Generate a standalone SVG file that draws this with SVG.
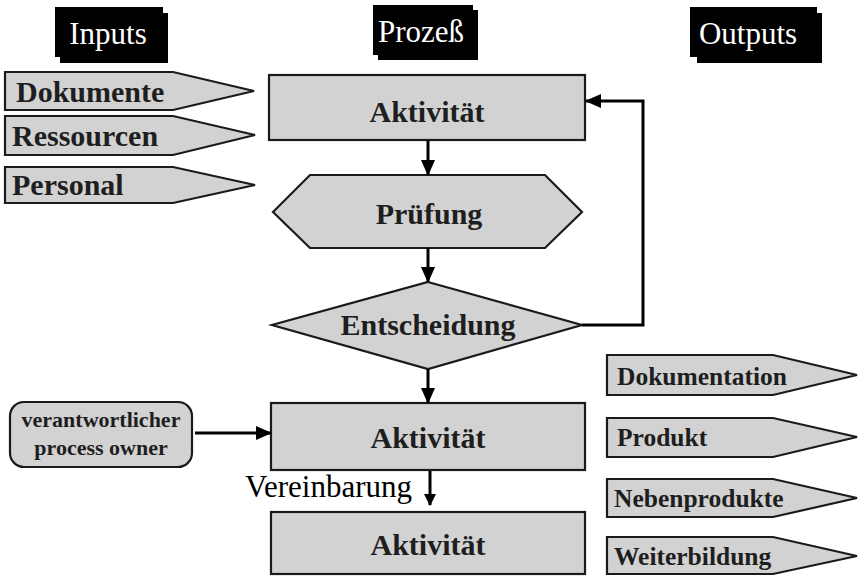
<svg xmlns="http://www.w3.org/2000/svg" width="862" height="576" viewBox="0 0 862 576">
<defs>
<marker id="ah" markerUnits="userSpaceOnUse" markerWidth="16" markerHeight="14" viewBox="0 0 16 14" refX="15" refY="7" orient="auto">
<path d="M0,0 L16,7 L0,14 Z" fill="#000"/>
</marker>
<marker id="ahs" markerUnits="userSpaceOnUse" markerWidth="12" markerHeight="12" viewBox="0 0 12 12" refX="11" refY="6" orient="auto">
<path d="M0,0 L12,6 L0,12 Z" fill="#000"/>
</marker>
</defs>
<style>
.shape{fill:#d2d2d2;stroke:#1a1a1a;stroke-width:2.2}
.hdr{fill:#000}
.ht{font-family:"Liberation Serif",serif;font-size:31px;fill:#fff;text-anchor:middle}
.bt{font-family:"Liberation Serif",serif;font-weight:bold;fill:#1e1e1e}
.big{font-size:30px}
.mid{font-size:25.5px}
.sm{font-size:22px}
.c{text-anchor:middle}
.conn{fill:none;stroke:#000;stroke-width:3}
.lbl{font-family:"Liberation Serif",serif;font-size:31px;fill:#000}
</style>
<rect width="862" height="576" fill="#fff"/>

<g id="hdr-inputs">
<rect class="hdr" x="60" y="13" width="108" height="50"/>
<rect class="hdr" x="55" y="7" width="108" height="50"/>
<text class="ht" x="108" y="44">Inputs</text>
</g>
<g id="hdr-prozess">
<rect class="hdr" x="378" y="10" width="100" height="50"/>
<rect class="hdr" x="373" y="5" width="100" height="50"/>
<text class="ht" x="421" y="42">Prozeß</text>
</g>
<g id="hdr-outputs">
<rect class="hdr" x="697" y="13" width="125" height="50"/>
<rect class="hdr" x="690" y="7" width="127" height="50"/>
<text class="ht" x="748" y="44">Outputs</text>
</g>

<g id="in-dokumente">
<path class="shape" d="M5,72 H173 L254,91 L173,110 H5 Z"/>
<text class="bt big" x="16" y="102">Dokumente</text>
</g>
<g id="in-ressourcen">
<path class="shape" d="M5,116 H173 L255,135 L173,155 H5 Z"/>
<text class="bt big" x="12" y="146">Ressourcen</text>
</g>
<g id="in-personal">
<path class="shape" d="M5,167 H173 L255,185 L173,203 H5 Z"/>
<text class="bt big" x="12" y="195">Personal</text>
</g>

<g id="aktivitaet1">
<rect class="shape" x="269" y="75" width="316" height="65"/>
<text class="bt big c" x="427" y="122">Aktivität</text>
</g>
<g id="pruefung">
<path class="shape" d="M273,212 L310,175 H545 L582,212 L545,248 H310 Z"/>
<text class="bt big c" x="429" y="224">Prüfung</text>
</g>
<g id="entscheidung">
<path class="shape" d="M428,282 L582,325 L428,369 L272,325 Z"/>
<text class="bt big c" x="428" y="335">Entscheidung</text>
</g>
<g id="aktivitaet2">
<rect class="shape" x="271" y="403" width="314" height="67"/>
<text class="bt big c" x="428" y="448">Aktivität</text>
</g>
<g id="aktivitaet3">
<rect class="shape" x="271" y="512" width="314" height="62"/>
<text class="bt big c" x="428" y="555">Aktivität</text>
</g>

<g id="process-owner">
<rect class="shape" x="10" y="402" width="182" height="65" rx="14" ry="14"/>
<text class="bt sm c" x="101" y="427">verantwortlicher</text>
<text class="bt sm c" x="101" y="455">process owner</text>
</g>

<g id="out-dokumentation">
<path class="shape" d="M607,355 H773 L857,375 L773,395 H607 Z"/>
<text class="bt mid" x="617" y="385">Dokumentation</text>
</g>
<g id="out-produkt">
<path class="shape" d="M607,418 H773 L857,437 L773,457 H607 Z"/>
<text class="bt mid" x="617" y="446">Produkt</text>
</g>
<g id="out-nebenprodukte">
<path class="shape" d="M607,479 H773 L857,498 L773,517 H607 Z"/>
<text class="bt mid" x="614" y="507">Nebenprodukte</text>
</g>
<g id="out-weiterbildung">
<path class="shape" d="M607,537 H773 L857,556 L773,574 H607 Z"/>
<text class="bt mid" x="614" y="565">Weiterbildung</text>
</g>

<g id="connectors">
<path class="conn" d="M428,140 V175" marker-end="url(#ah)"/>
<path class="conn" d="M428,248 V282" marker-end="url(#ah)"/>
<path class="conn" d="M428,369 V403" marker-end="url(#ah)"/>
<path class="conn" d="M582,325 H643 V101 H586" marker-end="url(#ah)"/>
<path class="conn" d="M195,433 H271" marker-end="url(#ah)"/>
<path class="conn" d="M430,471 V505" stroke-width="2.5" marker-end="url(#ahs)"/>
<text class="lbl" x="245" y="497">Vereinbarung</text>
</g>
</svg>
